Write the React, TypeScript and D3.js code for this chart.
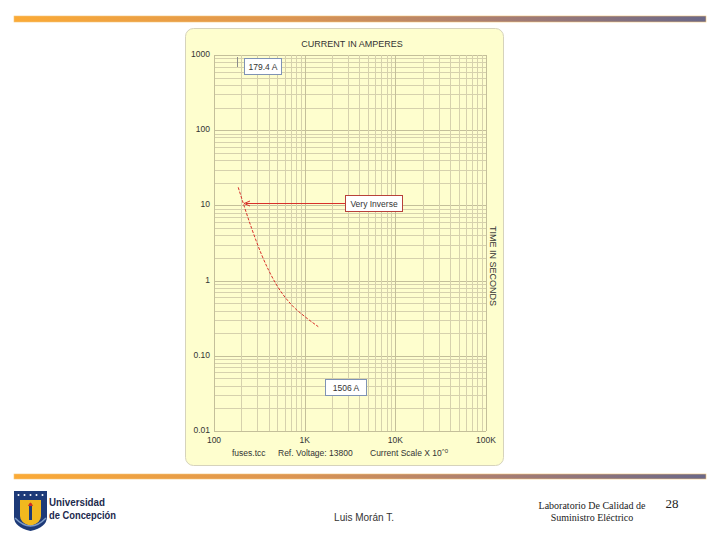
import React from "react";
import * as d3 from "d3";

// ---- data ----
const currentA = [185, 210, 260, 336, 491, 719, 1008, 1413];
const timeS = [17.4, 10.7, 4.96, 2.19, 0.873, 0.474, 0.331, 0.244];
const xTickValues = [100, 1000, 10000, 100000];
const xTickLabels = ["100", "1K", "10K", "100K"];
const yTickValues = [1000, 100, 10, 1, 0.1, 0.01];
const yTickLabels = ["1000", "100", "10", "1", "0.10", "0.01"];
const markerLow = 179.4;
const markerLowLabel = "179.4 A";
const markerHighLabel = "1506 A";
const curveLabel = "Very Inverse";
const curveLabelTime = 10.9;

const W = 720;
const H = 540;
const plot = { left: 214, right: 486, top: 55, bottom: 431 };

export default function App() {
  const x = d3.scaleLog().domain([100, 100000]).range([plot.left, plot.right]);
  const y = d3.scaleLog().domain([0.01, 1000]).range([plot.bottom, plot.top]);

  const vLines: { v: number; major: boolean }[] = [];
  for (let d = 100; d < 100000; d *= 10) {
    for (let k = 1; k <= 9; k++) vLines.push({ v: d * k, major: k === 1 });
  }
  vLines.push({ v: 100000, major: true });
  const hLines: { v: number; major: boolean }[] = [];
  for (let d = 0.01; d < 999; d *= 10) {
    for (let k = 1; k <= 9; k++) hLines.push({ v: d * k, major: k === 1 });
  }
  hLines.push({ v: 1000, major: true });

  const pts = currentA.map((c, i) => [c, timeS[i]] as [number, number]);
  const line = d3
    .line<[number, number]>()
    .x((d) => x(d[0]))
    .y((d) => y(d[1]))
    .curve(d3.curveMonotoneX);

  const arrowY = Math.round(y(curveLabelTime)) + 0.5;
  const font = "'Liberation Sans', Arial, sans-serif";
  const narrow = "'Liberation Sans Narrow', 'Arial Narrow', 'Liberation Sans', sans-serif";

  return (
    <svg
      width={W}
      height={H}
      style={{ position: "absolute", left: 0, top: 0, background: "#fff" }}
      fontFamily={font}
    >
      <defs>
        <linearGradient id="bar" x1="0" x2="1" y1="0" y2="0">
          <stop offset="0" stopColor="#fbaa36" />
          <stop offset="0.4" stopColor="#dc9552" />
          <stop offset="0.7" stopColor="#a77d73" />
          <stop offset="1" stopColor="#6b6888" />
        </linearGradient>
      </defs>

      {/* header / footer bars */}
      <rect x={14} y={16} width={692} height={6} fill="url(#bar)" stroke="#f3c57a" strokeWidth={0.6} />
      <rect x={14} y={474} width={692} height={5} fill="url(#bar)" stroke="#f3c57a" strokeWidth={0.6} />

      {/* chart panel */}
      <rect x={185.5} y={28.5} width={318} height={437} rx={8} fill="#fefece" stroke="#d6d3bc" strokeWidth={1} />

      {/* grid */}
      {hLines.map((l, i) => (
        <line
          key={"h" + i}
          x1={plot.left}
          x2={plot.right}
          y1={Math.round(y(l.v)) + 0.5}
          y2={Math.round(y(l.v)) + 0.5}
          stroke={l.major ? "#c4bf9a" : "#d6d1ad"}
          strokeWidth={1}
        />
      ))}
      {vLines.map((l, i) => (
        <line
          key={"v" + i}
          x1={Math.round(x(l.v)) + 0.5}
          x2={Math.round(x(l.v)) + 0.5}
          y1={plot.top}
          y2={plot.bottom}
          stroke={l.major ? "#c4bf9a" : "#d6d1ad"}
          strokeWidth={1}
        />
      ))}

      {/* axis titles */}
      <text x={352} y={47} fontSize={9} fill="#333" textAnchor="middle">
        CURRENT IN AMPERES
      </text>
      <text
        transform={`translate(490,${(plot.top + plot.bottom) / 2 + 23}) rotate(90)`}
        fontSize={9}
        fill="#333"
        textAnchor="middle"
      >
        TIME IN SECONDS
      </text>

      {/* tick labels */}
      {yTickValues.map((v, i) => (
        <text key={"yt" + i} x={210} y={y(v) + 2} fontSize={8.5} fill="#333" textAnchor="end">
          {yTickLabels[i]}
        </text>
      ))}
      {xTickValues.map((v, i) => (
        <text key={"xt" + i} x={x(v)} y={443} fontSize={8.5} fill="#333" textAnchor="middle">
          {xTickLabels[i]}
        </text>
      ))}
      <text x={232} y={456} fontSize={8.5} fill="#333">fuses.tcc</text>
      <text x={278} y={456} fontSize={8.5} fill="#333">Ref. Voltage: 13800</text>
      <text x={370} y={456} fontSize={8.5} fill="#333">
        Current Scale X 10
        <tspan fontSize={6} dy={-3}>^0</tspan>
      </text>

      {/* 179.4 A marker */}
      <line
        x1={Math.round(x(markerLow)) + 0.5}
        x2={Math.round(x(markerLow)) + 0.5}
        y1={57}
        y2={67}
        stroke="#8c8c8c"
        strokeWidth={1}
      />
      <rect x={244.5} y={58.5} width={37} height={16} fill="#fff" stroke="#7f93b5" strokeWidth={1} />
      <text x={263} y={70} fontSize={8.5} fill="#333" textAnchor="middle">
        {markerLowLabel}
      </text>

      {/* curve */}
      <path d={line(pts) || ""} fill="none" stroke="#d8302a" strokeWidth={1} strokeDasharray="3,1.5" />

      {/* very inverse label + arrow */}
      <line x1={345} x2={246} y1={arrowY} y2={arrowY} stroke="#d8302a" strokeWidth={1.2} />
      <path
        d={`M${250},${arrowY - 2.5} L${244},${arrowY} L${250},${arrowY + 2.5}`}
        fill="none"
        stroke="#d8302a"
        strokeWidth={1}
      />
      <rect x={345.5} y={arrowY - 8} width={57} height={16} fill="#fff" stroke="#b8413a" strokeWidth={1} />
      <text x={374} y={arrowY + 3.5} fontSize={8.5} fill="#333" textAnchor="middle">
        {curveLabel}
      </text>

      {/* 1506 A label */}
      <rect x={325.5} y={379.5} width={41} height={16} fill="#fff" stroke="#7f93b5" strokeWidth={1} />
      <text x={346} y={391} fontSize={8.5} fill="#333" textAnchor="middle">
        {markerHighLabel}
      </text>

      {/* footer: logo */}
      <g>
        <path d="M14,491 L47,491 L47,517 Q47,527 30.5,531 Q14,527 14,517 Z" fill="#1d3a78" />
        <path d="M20,500 L41,500 L41,516 Q41,523 30.5,526 Q20,523 20,516 Z" fill="#f1b81e" />
        {[18, 24, 30, 36, 42].map((sx, i) => (
          <circle key={"st" + i} cx={sx + 0.5} cy={495} r={1} fill="#fff" />
        ))}
        <rect x={29} y={506} width={3} height={14} fill="#1d3a78" />
        <path d="M28,506 Q30.5,499 33,506 Z" fill="#d12c24" />
        <path d="M15,518 Q30.5,534 46,518" fill="none" stroke="#7e9cc8" strokeWidth={1.5} />
      </g>
      <text
        x={49}
        y={506}
        fontSize={11}
        fontWeight="bold"
        fill="#1d2a4d"
        fontFamily={narrow}
        textLength={56}
        lengthAdjust="spacingAndGlyphs"
      >
        Universidad
      </text>
      <text
        x={49}
        y={519}
        fontSize={11}
        fontWeight="bold"
        fill="#1d2a4d"
        fontFamily={narrow}
        textLength={67}
        lengthAdjust="spacingAndGlyphs"
      >
        de Concepción
      </text>

      <text x={364} y={521} fontSize={10} fill="#333" textAnchor="middle">
        Luis Morán T.
      </text>
      <text x={592} y={509} fontSize={10} fill="#222" textAnchor="middle" fontFamily="'Liberation Serif', 'Times New Roman', serif">
        Laboratorio De Calidad de
      </text>
      <text x={592} y={521} fontSize={10} fill="#222" textAnchor="middle" fontFamily="'Liberation Serif', 'Times New Roman', serif">
        Suministro Eléctrico
      </text>
      <text x={672} y={508} fontSize={13} fill="#222" textAnchor="middle" fontFamily="'Liberation Serif', 'Times New Roman', serif">
        28
      </text>
    </svg>
  );
}
